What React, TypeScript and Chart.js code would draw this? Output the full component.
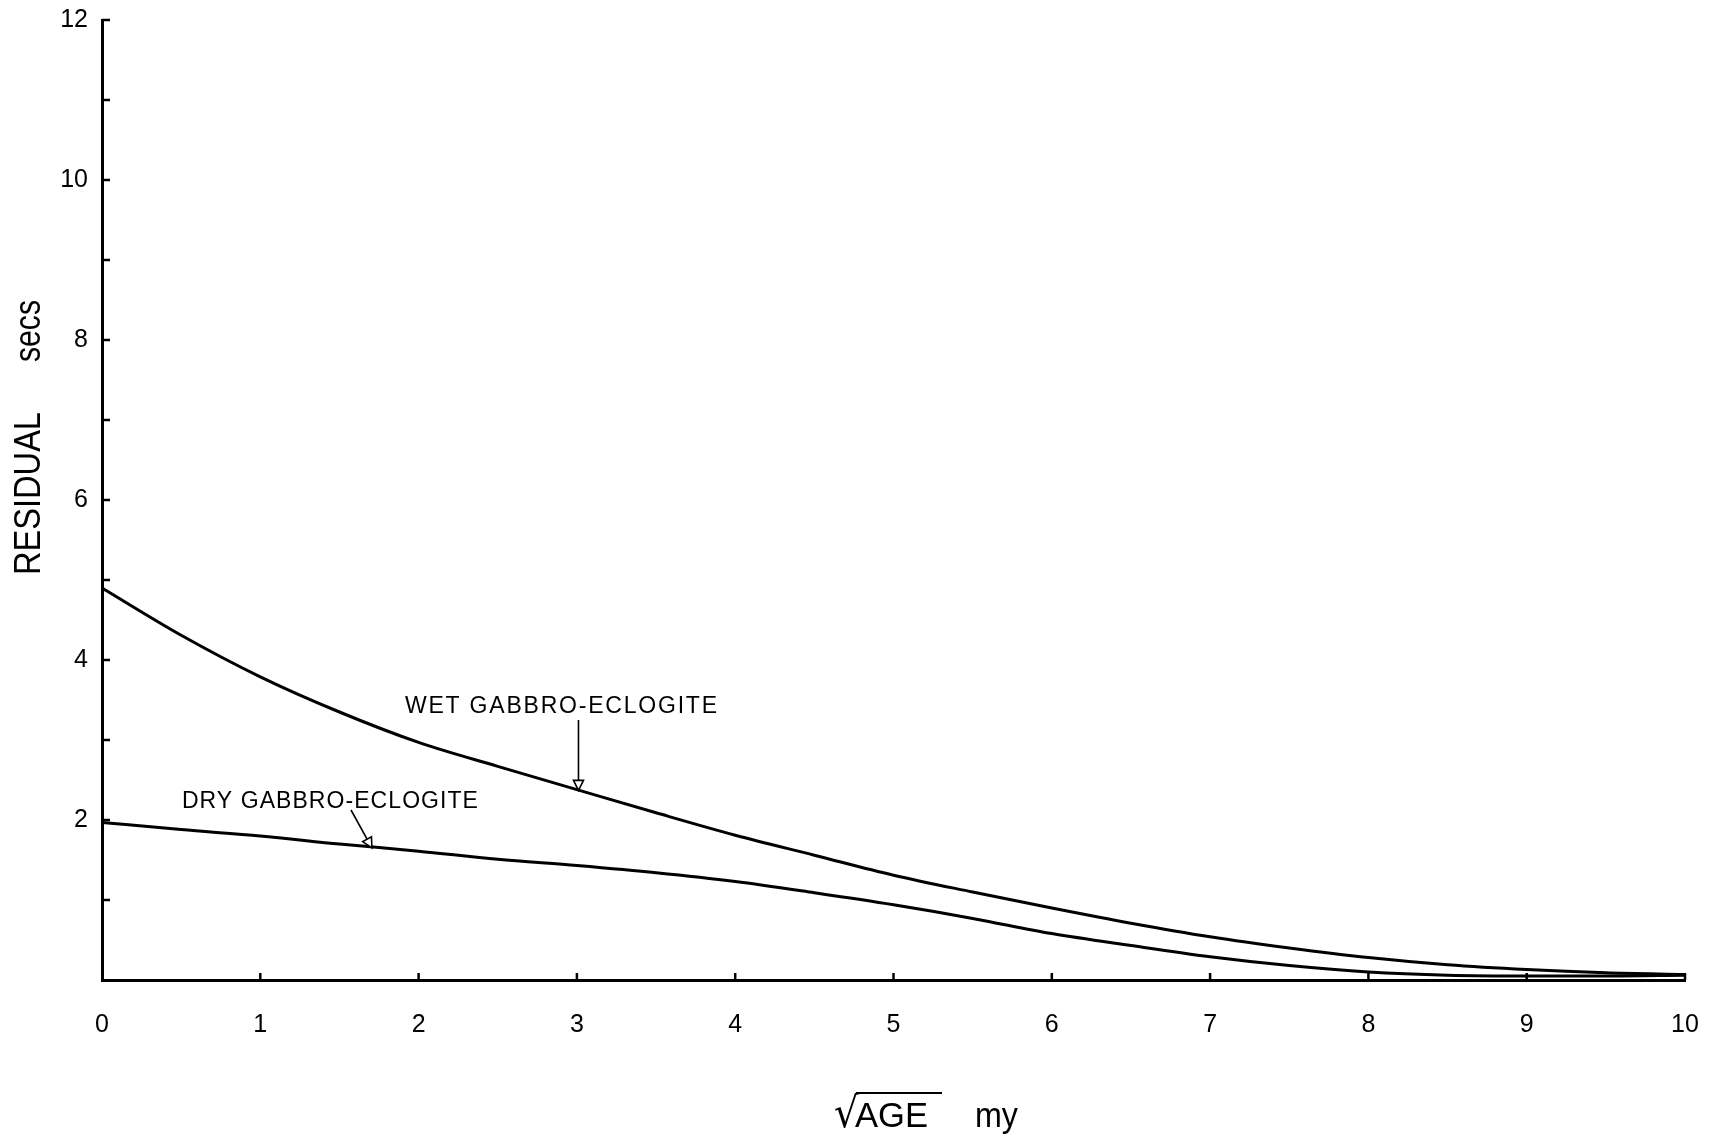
import React, { useEffect, useRef } from 'react';
import { Chart, registerables } from 'chart.js';

Chart.register(...registerables);

// ---- data ----
const sqrtAge = [0, 0.5, 1, 1.5, 2, 2.5, 3, 3.5, 4, 4.5, 5, 5.5, 6, 6.5, 7, 7.5, 8, 8.5, 9, 9.5, 10];
const wetResidual = [4.9, 4.31, 3.79, 3.35, 2.97, 2.67, 2.38, 2.09, 1.81, 1.56, 1.31, 1.1, 0.9, 0.71, 0.54, 0.4, 0.28, 0.19, 0.13, 0.09, 0.07];
const dryResidual = [1.97, 1.88, 1.8, 1.7, 1.61, 1.51, 1.43, 1.34, 1.23, 1.09, 0.94, 0.77, 0.58, 0.43, 0.29, 0.18, 0.1, 0.06, 0.05, 0.05, 0.06];
const xTickLabels = ['0', '1', '2', '3', '4', '5', '6', '7', '8', '9', '10'];
const yTickLabels = ['', '', '2', '', '4', '', '6', '', '8', '', '10', '', '12'];

const wetLabel = { text: 'WET GABBRO-ECLOGITE', x: 1.914, y: 3.34 };
const wetArrow = { from: [3.01, 3.25], to: [3.01, 2.37] };
const dryLabel = { text: 'DRY GABBRO-ECLOGITE', x: 0.505, y: 2.15 };
const dryArrow = { from: [1.573, 2.125], to: [1.705, 1.65] };

const yTitleMain = 'RESIDUAL';
const yTitleUnit = 'secs';
const xTitleRoot = '√';
const xTitleMain = 'AGE';
const xTitleUnit = 'my';

const FONT = '"Liberation Sans", Arial, sans-serif';
const INK = '#000';

function fitText(ctx: CanvasRenderingContext2D, text: string, x: number, y: number, width: number) {
  const w = ctx.measureText(text).width;
  ctx.save();
  ctx.translate(x, y);
  ctx.scale(width / w, 1);
  ctx.fillText(text, 0, 0);
  ctx.restore();
}

function spacedText(ctx: CanvasRenderingContext2D, text: string, x: number, y: number, width: number) {
  (ctx as any).letterSpacing = '0px';
  const w0 = ctx.measureText(text).width;
  const sp = (width - w0) / (text.length - 1);
  (ctx as any).letterSpacing = sp + 'px';
  ctx.fillText(text, x, y);
  (ctx as any).letterSpacing = '0px';
}

function arrow(ctx: CanvasRenderingContext2D, x1: number, y1: number, x2: number, y2: number) {
  const ang = Math.atan2(y2 - y1, x2 - x1);
  const len = 10;
  const hw = 5;
  const bx = x2 - Math.cos(ang) * len;
  const by = y2 - Math.sin(ang) * len;
  ctx.beginPath();
  ctx.moveTo(x1, y1);
  ctx.lineTo(bx, by);
  ctx.lineWidth = 1.6;
  ctx.stroke();
  ctx.beginPath();
  ctx.moveTo(x2, y2);
  ctx.lineTo(bx + Math.sin(ang) * hw, by - Math.cos(ang) * hw);
  ctx.lineTo(bx - Math.sin(ang) * hw, by + Math.cos(ang) * hw);
  ctx.closePath();
  ctx.fillStyle = '#fff';
  ctx.fill();
  ctx.stroke();
}

const overlay = {
  id: 'overlay',
  afterDraw(chart: any) {
    const ctx: CanvasRenderingContext2D = chart.ctx;
    const xs = chart.scales.x;
    const ys = chart.scales.y;
    const { left, bottom } = chart.chartArea;
    ctx.save();
    ctx.strokeStyle = INK;
    ctx.fillStyle = INK;
    ctx.lineCap = 'butt';

    // inward tick marks
    ctx.lineWidth = 2.5;
    for (let v = 1; v < yTickLabels.length; v++) {
      const py = ys.getPixelForValue(v);
      ctx.beginPath();
      ctx.moveTo(left, py);
      ctx.lineTo(left + 8, py);
      ctx.stroke();
    }
    for (let v = 1; v < xTickLabels.length; v++) {
      const px = xs.getPixelForValue(v);
      ctx.beginPath();
      ctx.moveTo(px, bottom);
      ctx.lineTo(px, bottom - 7);
      ctx.stroke();
    }

    // curve labels
    ctx.font = `23px ${FONT}`;
    ctx.textBaseline = 'alphabetic';
    ctx.textAlign = 'left';
    ctx.fillStyle = INK;
    spacedText(ctx, wetLabel.text, xs.getPixelForValue(wetLabel.x), ys.getPixelForValue(wetLabel.y), 312);
    spacedText(ctx, dryLabel.text, xs.getPixelForValue(dryLabel.x), ys.getPixelForValue(dryLabel.y), 296);

    ctx.strokeStyle = INK;
    arrow(ctx, xs.getPixelForValue(wetArrow.from[0]), ys.getPixelForValue(wetArrow.from[1]),
      xs.getPixelForValue(wetArrow.to[0]), ys.getPixelForValue(wetArrow.to[1]));
    arrow(ctx, xs.getPixelForValue(dryArrow.from[0]), ys.getPixelForValue(dryArrow.from[1]),
      xs.getPixelForValue(dryArrow.to[0]), ys.getPixelForValue(dryArrow.to[1]));

    // y title (rotated)
    ctx.fillStyle = INK;
    ctx.font = `37px ${FONT}`;
    ctx.save();
    ctx.translate(40, 575);
    ctx.rotate(-Math.PI / 2);
    fitText(ctx, yTitleMain, 0, 0, 163);
    ctx.restore();
    ctx.save();
    ctx.translate(40, 362);
    ctx.rotate(-Math.PI / 2);
    fitText(ctx, yTitleUnit, 0, 0, 62);
    ctx.restore();

    // x title
    ctx.font = `35px ${FONT}`;
    fitText(ctx, xTitleMain, 855, 1127, 73);
    fitText(ctx, xTitleUnit, 975, 1127, 43);
    ctx.font = `40px "DejaVu Sans", sans-serif`;
    const m = ctx.measureText(xTitleRoot);
    const gw = m.actualBoundingBoxLeft + m.actualBoundingBoxRight;
    const gh = m.actualBoundingBoxAscent + m.actualBoundingBoxDescent;
    const bx0 = 835, bx1 = 859, by0 = 1092, by1 = 1128;
    ctx.save();
    ctx.translate(bx0, by0);
    ctx.scale((bx1 - bx0) / gw, (by1 - by0) / gh);
    ctx.fillText(xTitleRoot, m.actualBoundingBoxLeft, m.actualBoundingBoxAscent);
    ctx.restore();
    ctx.lineWidth = 2;
    ctx.beginPath();
    ctx.moveTo(856, 1093);
    ctx.lineTo(942, 1093);
    ctx.stroke();

    ctx.restore();
  },
};

const whiteBg = {
  id: 'whiteBg',
  beforeDraw(chart: any) {
    const ctx = chart.ctx;
    ctx.save();
    ctx.fillStyle = '#fff';
    ctx.fillRect(0, 0, chart.width, chart.height);
    ctx.restore();
  },
};

function clearPad(s: any) {
  s.paddingLeft = 0;
  s.paddingRight = 0;
  s.paddingTop = 0;
  s.paddingBottom = 0;
}

export default function App() {
  const ref = useRef<HTMLCanvasElement | null>(null);

  useEffect(() => {
    if (!ref.current) return;
    const lineStyle = {
      borderColor: INK,
      borderWidth: 3,
      pointRadius: 0,
      fill: false,
      tension: 0.4,
      cubicInterpolationMode: 'monotone' as const,
    };
    const chart = new Chart(ref.current, {
      type: 'line',
      data: {
        datasets: [
          { label: 'Wet gabbro-eclogite', data: sqrtAge.map((x, i) => ({ x, y: wetResidual[i] })), ...lineStyle },
          { label: 'Dry gabbro-eclogite', data: sqrtAge.map((x, i) => ({ x, y: dryResidual[i] })), ...lineStyle },
        ],
      },
      options: {
        animation: false,
        responsive: false,
        devicePixelRatio: 1,
        layout: { padding: { left: 0, top: 20, right: 27, bottom: 0 } },
        plugins: { legend: { display: false }, tooltip: { enabled: false } },
        scales: {
          x: {
            type: 'linear',
            min: 0,
            max: 10,
            afterFit: (s: any) => { s.height = 163; clearPad(s); },
            grid: { display: false, drawTicks: false },
            border: { display: true, color: INK, width: 3 },
            ticks: {
              stepSize: 1,
              padding: 30,
              color: INK,
              font: { family: FONT, size: 25 },
              maxRotation: 0,
              autoSkip: false,
              callback: (v: any) => xTickLabels[Number(v)] ?? '',
            },
          },
          y: {
            type: 'linear',
            min: 0,
            max: 12,
            afterFit: (s: any) => { s.width = 102; clearPad(s); },
            grid: { display: false, drawTicks: false },
            border: { display: true, color: INK, width: 3 },
            ticks: {
              stepSize: 1,
              padding: 14,
              color: INK,
              font: { family: FONT, size: 25 },
              autoSkip: false,
              callback: (v: any) => yTickLabels[Number(v)] ?? '',
            },
          },
        },
      },
      plugins: [whiteBg, overlay],
    });
    return () => chart.destroy();
  }, []);

  return (
    <div style={{ position: 'absolute', left: 0, top: 0, width: 1712, height: 1143, background: '#fff' }}>
      <canvas ref={ref} width={1712} height={1143} style={{ display: 'block', width: 1712, height: 1143 }} />
    </div>
  );
}
